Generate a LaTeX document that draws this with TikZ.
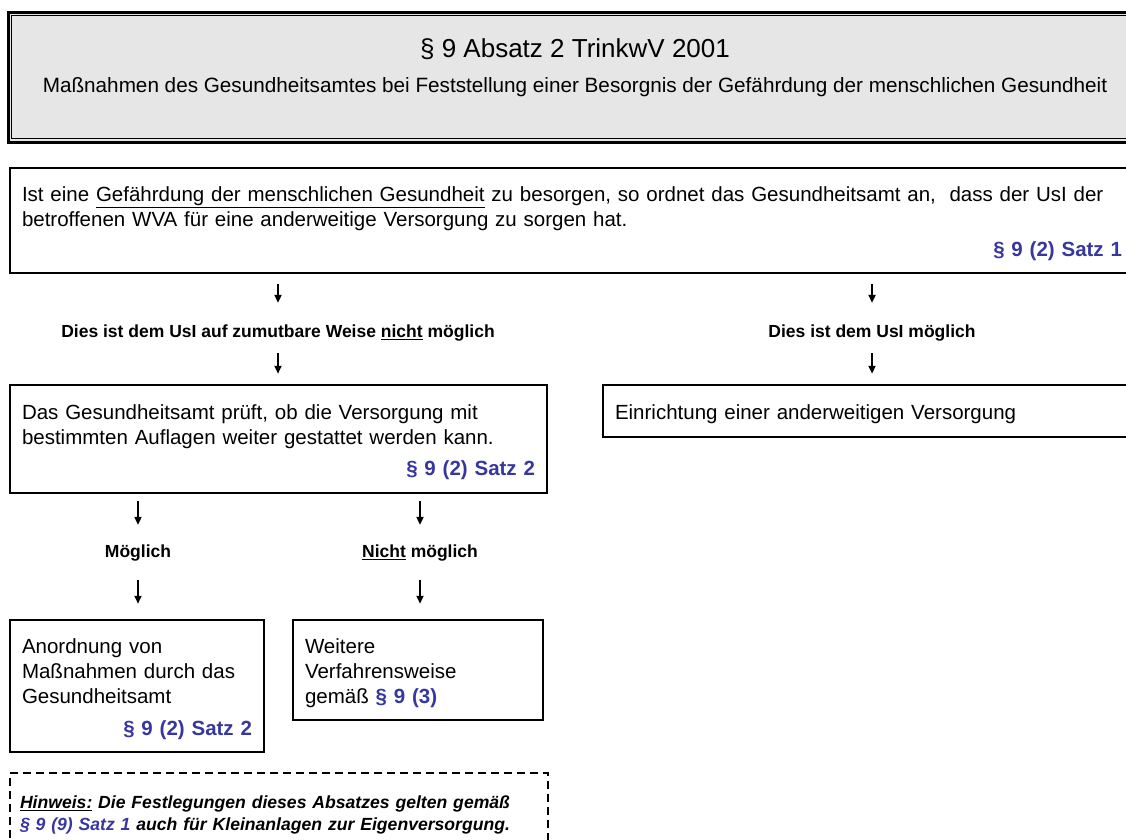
\documentclass[tikz,border=0pt]{standalone}
\usepackage{fontspec}
\setmainfont{Liberation Sans}
\usetikzlibrary{positioning,arrows.meta}
\definecolor{para_blue}{RGB}{55,55,160}
\definecolor{head_gray}{RGB}{230,230,230}
\newcommand{\pref}[1]{\textcolor{para_blue}{\textbf{#1}}}

\begin{document}
\begin{tikzpicture}[x=1pt, y=-1pt,
    every node/.style={font=\fontsize{20.5}{25}\selectfont},
    box/.style={draw, line width=2.5pt, align=left, inner xsep=12pt, inner ysep=0pt,
                execute at begin node={\rule{0pt}{21.5pt}}},
    cond/.style={font=\fontsize{17.5}{20}\selectfont\bfseries, minimum height=40pt, inner sep=0pt},
    arr/.style={-{Triangle[length=8pt,width=7pt]}, line width=2pt}]
  \clip (0,0) rectangle (1126,839);

  % header
  \node[draw, line width=3pt, fill=head_gray, minimum width=1140pt,
        minimum height=130pt] (head) at (578,77) {};
  \draw[line width=1pt] ([shift={(5pt,-5pt)}]head.north west)
    rectangle ([shift={(-5pt,5pt)}]head.south east);
  \node[font=\fontsize{26}{30}\selectfont] (title) at (575,49) {§ 9 Absatz 2 TrinkwV 2001};
  \node[font=\fontsize{20.7}{24}\selectfont] (subtitle) at (575,87)
    {Maßnahmen des Gesundheitsamtes bei Feststellung einer Besorgnis der Gefährdung der menschlichen Gesundheit};

  % boxes
  \node[box, minimum width=1124pt, text width=1100pt, minimum height=105pt]
    (gef) at (572,220.5)
    {Ist eine \underline{Gefährdung der menschlichen Gesundheit} zu besorgen, so ordnet das Gesundheitsamt an,\ \ dass der UsI der\\
     betroffenen WVA für eine anderweitige Versorgung zu sorgen hat.\\[5pt]
     \makebox[\linewidth][r]{\pref{§ 9 (2) Satz 1}}};
  \node[cond] (nope) at (278,333) {Dies ist dem UsI auf zumutbare Weise \underline{nicht} möglich};
  \node[cond] (okay) at (872,333) {Dies ist dem UsI möglich};
  \node[box, minimum width=537pt, text width=513pt, minimum height=108pt]
    (pruef) at (278.5,439)
    {Das Gesundheitsamt prüft, ob die Versorgung mit\\
     bestimmten Auflagen weiter gestattet werden kann.\\[6pt]
     \makebox[\linewidth][r]{\pref{§ 9 (2) Satz 2}}};
  \node[box, minimum width=538pt, text width=514pt, minimum height=52pt]
    (einr) at (872,411) {Einrichtung einer anderweitigen Versorgung};
  \node[cond] (yes) at (138,553) {Möglich};
  \node[cond] (no) at (420,553) {\underline{Nicht} möglich};
  \node[box, minimum width=254pt, text width=230pt, minimum height=132pt]
    (anord) at (137,686)
    {Anordnung von\\Maßnahmen durch das\\Gesundheitsamt\\[7pt]
     \makebox[\linewidth][r]{\pref{§ 9 (2) Satz 2}}};
  \node[box, minimum width=250pt, text width=226pt, minimum height=100pt]
    (weiter) at (418,670)
    {Weitere\\Verfahrensweise\\gemäß \pref{§ 9 (3)}};
  \node[box, line width=2pt, dash pattern=on 8pt off 5pt, inner xsep=10pt,
        minimum width=538pt, text width=518pt, minimum height=76pt,
        font=\fontsize{17.6}{22}\selectfont\bfseries\itshape]
    (hint) at (279,811)
    {\underline{Hinweis:} Die Festlegungen dieses Absatzes gelten gemäß\\
     \textcolor{para_blue}{§ 9 (9) Satz 1} auch für Kleinanlagen zur Eigenversorgung.};

  % arrows
  \draw[arr, shorten <=10pt, shorten >=10pt] (gef.south -| nope) -- (nope.north);
  \draw[arr, shorten <=10pt, shorten >=10pt] (gef.south -| okay) -- (okay.north);
  \draw[arr, shorten >=10pt] (nope.south) -- (pruef.north -| nope);
  \draw[arr, shorten >=10pt] (okay.south) -- (einr.north -| okay);
  \draw[arr, shorten <=7pt, shorten >=8pt] (pruef.south -| yes) -- (yes.north);
  \draw[arr, shorten <=7pt, shorten >=8pt] (pruef.south -| no) -- (no.north);
  \draw[arr, shorten <=7pt, shorten >=15pt] (yes.south) -- (anord.north -| yes);
  \draw[arr, shorten <=7pt, shorten >=15pt] (no.south) -- (weiter.north -| no);
\end{tikzpicture}
\end{document}
